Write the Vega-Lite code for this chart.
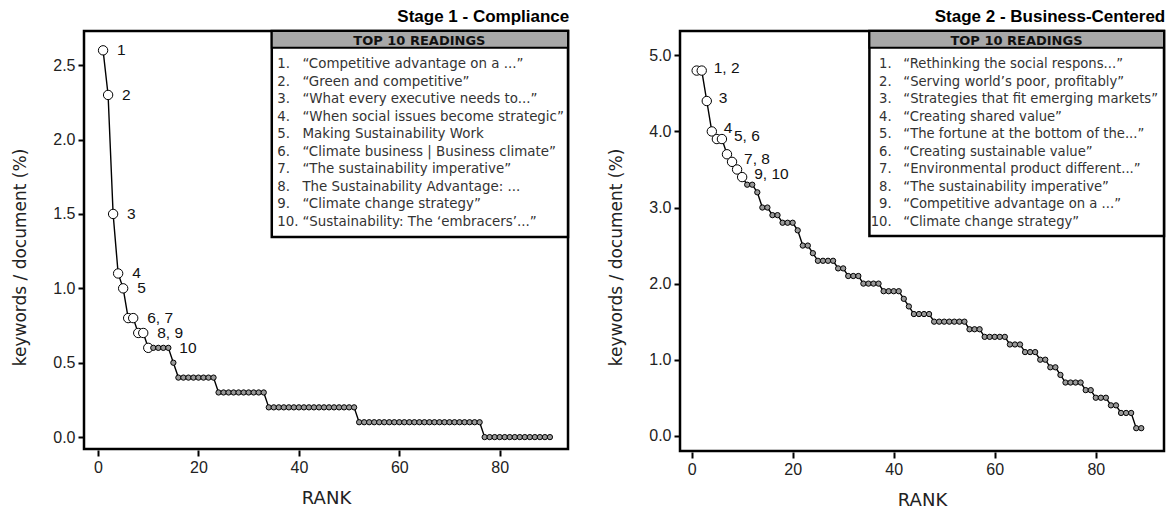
{
  "$schema": "https://vega.github.io/schema/vega-lite/v6.json",
  "padding": {"left": 10, "top": 6, "right": 2, "bottom": 3},
  "spacing": 35,
  "config": {
    "font": "Liberation Sans",
    "view": {"stroke": "black", "strokeWidth": 2.5},
    "axis": {
      "domain": false, "grid": false, "tickColor": "black", "tickWidth": 2, "tickSize": 6,
      "labelFontSize": 16, "labelColor": "#222", "labelPadding": 3,
      "titleFontSize": 17, "titleFont": "DejaVu Sans", "titleFontWeight": "normal", "titleColor": "#222"
    },
    "axisY": {"titlePadding": 23},
    "axisX": {"titlePadding": 14, "offset": 1, "titleFontSize": 18},
    "title": {"fontSize": 17, "fontWeight": "bold", "anchor": "end", "color": "black", "offset": 4}
  },
  "datasets": {
    "s1": [
      {"rank": 1, "value": 2.6, "group": "top", "label": "1"},
      {"rank": 2, "value": 2.3, "group": "top", "label": "2"},
      {"rank": 3, "value": 1.5, "group": "top", "label": "3"},
      {"rank": 4, "value": 1.1, "group": "top", "label": "4"},
      {"rank": 5, "value": 1.0, "group": "top", "label": "5"},
      {"rank": 6, "value": 0.8, "group": "top"},
      {"rank": 7, "value": 0.8, "group": "top", "label": "6, 7"},
      {"rank": 8, "value": 0.7, "group": "top"},
      {"rank": 9, "value": 0.7, "group": "top", "label": "8, 9"},
      {"rank": 10, "value": 0.6, "group": "top", "label": "10"},
      {"rank": 11, "value": 0.6, "group": "other"},
      {"rank": 12, "value": 0.6, "group": "other"},
      {"rank": 13, "value": 0.6, "group": "other"},
      {"rank": 14, "value": 0.6, "group": "other"},
      {"rank": 15, "value": 0.5, "group": "other"},
      {"rank": 16, "value": 0.4, "group": "other"},
      {"rank": 17, "value": 0.4, "group": "other"},
      {"rank": 18, "value": 0.4, "group": "other"},
      {"rank": 19, "value": 0.4, "group": "other"},
      {"rank": 20, "value": 0.4, "group": "other"},
      {"rank": 21, "value": 0.4, "group": "other"},
      {"rank": 22, "value": 0.4, "group": "other"},
      {"rank": 23, "value": 0.4, "group": "other"},
      {"rank": 24, "value": 0.3, "group": "other"},
      {"rank": 25, "value": 0.3, "group": "other"},
      {"rank": 26, "value": 0.3, "group": "other"},
      {"rank": 27, "value": 0.3, "group": "other"},
      {"rank": 28, "value": 0.3, "group": "other"},
      {"rank": 29, "value": 0.3, "group": "other"},
      {"rank": 30, "value": 0.3, "group": "other"},
      {"rank": 31, "value": 0.3, "group": "other"},
      {"rank": 32, "value": 0.3, "group": "other"},
      {"rank": 33, "value": 0.3, "group": "other"},
      {"rank": 34, "value": 0.2, "group": "other"},
      {"rank": 35, "value": 0.2, "group": "other"},
      {"rank": 36, "value": 0.2, "group": "other"},
      {"rank": 37, "value": 0.2, "group": "other"},
      {"rank": 38, "value": 0.2, "group": "other"},
      {"rank": 39, "value": 0.2, "group": "other"},
      {"rank": 40, "value": 0.2, "group": "other"},
      {"rank": 41, "value": 0.2, "group": "other"},
      {"rank": 42, "value": 0.2, "group": "other"},
      {"rank": 43, "value": 0.2, "group": "other"},
      {"rank": 44, "value": 0.2, "group": "other"},
      {"rank": 45, "value": 0.2, "group": "other"},
      {"rank": 46, "value": 0.2, "group": "other"},
      {"rank": 47, "value": 0.2, "group": "other"},
      {"rank": 48, "value": 0.2, "group": "other"},
      {"rank": 49, "value": 0.2, "group": "other"},
      {"rank": 50, "value": 0.2, "group": "other"},
      {"rank": 51, "value": 0.2, "group": "other"},
      {"rank": 52, "value": 0.1, "group": "other"},
      {"rank": 53, "value": 0.1, "group": "other"},
      {"rank": 54, "value": 0.1, "group": "other"},
      {"rank": 55, "value": 0.1, "group": "other"},
      {"rank": 56, "value": 0.1, "group": "other"},
      {"rank": 57, "value": 0.1, "group": "other"},
      {"rank": 58, "value": 0.1, "group": "other"},
      {"rank": 59, "value": 0.1, "group": "other"},
      {"rank": 60, "value": 0.1, "group": "other"},
      {"rank": 61, "value": 0.1, "group": "other"},
      {"rank": 62, "value": 0.1, "group": "other"},
      {"rank": 63, "value": 0.1, "group": "other"},
      {"rank": 64, "value": 0.1, "group": "other"},
      {"rank": 65, "value": 0.1, "group": "other"},
      {"rank": 66, "value": 0.1, "group": "other"},
      {"rank": 67, "value": 0.1, "group": "other"},
      {"rank": 68, "value": 0.1, "group": "other"},
      {"rank": 69, "value": 0.1, "group": "other"},
      {"rank": 70, "value": 0.1, "group": "other"},
      {"rank": 71, "value": 0.1, "group": "other"},
      {"rank": 72, "value": 0.1, "group": "other"},
      {"rank": 73, "value": 0.1, "group": "other"},
      {"rank": 74, "value": 0.1, "group": "other"},
      {"rank": 75, "value": 0.1, "group": "other"},
      {"rank": 76, "value": 0.1, "group": "other"},
      {"rank": 77, "value": 0.0, "group": "other"},
      {"rank": 78, "value": 0.0, "group": "other"},
      {"rank": 79, "value": 0.0, "group": "other"},
      {"rank": 80, "value": 0.0, "group": "other"},
      {"rank": 81, "value": 0.0, "group": "other"},
      {"rank": 82, "value": 0.0, "group": "other"},
      {"rank": 83, "value": 0.0, "group": "other"},
      {"rank": 84, "value": 0.0, "group": "other"},
      {"rank": 85, "value": 0.0, "group": "other"},
      {"rank": 86, "value": 0.0, "group": "other"},
      {"rank": 87, "value": 0.0, "group": "other"},
      {"rank": 88, "value": 0.0, "group": "other"},
      {"rank": 89, "value": 0.0, "group": "other"},
      {"rank": 90, "value": 0.0, "group": "other"}
    ],
    "s2": [
      {"rank": 1, "value": 4.8, "group": "top"},
      {"rank": 2, "value": 4.8, "group": "top", "label": "1, 2"},
      {"rank": 3, "value": 4.4, "group": "top", "label": "3"},
      {"rank": 4, "value": 4.0, "group": "top", "label": "4"},
      {"rank": 5, "value": 3.9, "group": "top"},
      {"rank": 6, "value": 3.9, "group": "top", "label": "5, 6"},
      {"rank": 7, "value": 3.7, "group": "top"},
      {"rank": 8, "value": 3.6, "group": "top", "label": "7, 8"},
      {"rank": 9, "value": 3.5, "group": "top"},
      {"rank": 10, "value": 3.4, "group": "top", "label": "9, 10"},
      {"rank": 11, "value": 3.3, "group": "other"},
      {"rank": 12, "value": 3.3, "group": "other"},
      {"rank": 13, "value": 3.2, "group": "other"},
      {"rank": 14, "value": 3.0, "group": "other"},
      {"rank": 15, "value": 3.0, "group": "other"},
      {"rank": 16, "value": 2.9, "group": "other"},
      {"rank": 17, "value": 2.9, "group": "other"},
      {"rank": 18, "value": 2.8, "group": "other"},
      {"rank": 19, "value": 2.8, "group": "other"},
      {"rank": 20, "value": 2.8, "group": "other"},
      {"rank": 21, "value": 2.7, "group": "other"},
      {"rank": 22, "value": 2.5, "group": "other"},
      {"rank": 23, "value": 2.5, "group": "other"},
      {"rank": 24, "value": 2.4, "group": "other"},
      {"rank": 25, "value": 2.3, "group": "other"},
      {"rank": 26, "value": 2.3, "group": "other"},
      {"rank": 27, "value": 2.3, "group": "other"},
      {"rank": 28, "value": 2.3, "group": "other"},
      {"rank": 29, "value": 2.2, "group": "other"},
      {"rank": 30, "value": 2.2, "group": "other"},
      {"rank": 31, "value": 2.1, "group": "other"},
      {"rank": 32, "value": 2.1, "group": "other"},
      {"rank": 33, "value": 2.1, "group": "other"},
      {"rank": 34, "value": 2.0, "group": "other"},
      {"rank": 35, "value": 2.0, "group": "other"},
      {"rank": 36, "value": 2.0, "group": "other"},
      {"rank": 37, "value": 2.0, "group": "other"},
      {"rank": 38, "value": 1.9, "group": "other"},
      {"rank": 39, "value": 1.9, "group": "other"},
      {"rank": 40, "value": 1.9, "group": "other"},
      {"rank": 41, "value": 1.9, "group": "other"},
      {"rank": 42, "value": 1.8, "group": "other"},
      {"rank": 43, "value": 1.7, "group": "other"},
      {"rank": 44, "value": 1.6, "group": "other"},
      {"rank": 45, "value": 1.6, "group": "other"},
      {"rank": 46, "value": 1.6, "group": "other"},
      {"rank": 47, "value": 1.6, "group": "other"},
      {"rank": 48, "value": 1.5, "group": "other"},
      {"rank": 49, "value": 1.5, "group": "other"},
      {"rank": 50, "value": 1.5, "group": "other"},
      {"rank": 51, "value": 1.5, "group": "other"},
      {"rank": 52, "value": 1.5, "group": "other"},
      {"rank": 53, "value": 1.5, "group": "other"},
      {"rank": 54, "value": 1.5, "group": "other"},
      {"rank": 55, "value": 1.4, "group": "other"},
      {"rank": 56, "value": 1.4, "group": "other"},
      {"rank": 57, "value": 1.4, "group": "other"},
      {"rank": 58, "value": 1.3, "group": "other"},
      {"rank": 59, "value": 1.3, "group": "other"},
      {"rank": 60, "value": 1.3, "group": "other"},
      {"rank": 61, "value": 1.3, "group": "other"},
      {"rank": 62, "value": 1.3, "group": "other"},
      {"rank": 63, "value": 1.2, "group": "other"},
      {"rank": 64, "value": 1.2, "group": "other"},
      {"rank": 65, "value": 1.2, "group": "other"},
      {"rank": 66, "value": 1.1, "group": "other"},
      {"rank": 67, "value": 1.1, "group": "other"},
      {"rank": 68, "value": 1.1, "group": "other"},
      {"rank": 69, "value": 1.0, "group": "other"},
      {"rank": 70, "value": 1.0, "group": "other"},
      {"rank": 71, "value": 0.9, "group": "other"},
      {"rank": 72, "value": 0.9, "group": "other"},
      {"rank": 73, "value": 0.8, "group": "other"},
      {"rank": 74, "value": 0.7, "group": "other"},
      {"rank": 75, "value": 0.7, "group": "other"},
      {"rank": 76, "value": 0.7, "group": "other"},
      {"rank": 77, "value": 0.7, "group": "other"},
      {"rank": 78, "value": 0.6, "group": "other"},
      {"rank": 79, "value": 0.6, "group": "other"},
      {"rank": 80, "value": 0.5, "group": "other"},
      {"rank": 81, "value": 0.5, "group": "other"},
      {"rank": 82, "value": 0.5, "group": "other"},
      {"rank": 83, "value": 0.4, "group": "other"},
      {"rank": 84, "value": 0.4, "group": "other"},
      {"rank": 85, "value": 0.3, "group": "other"},
      {"rank": 86, "value": 0.3, "group": "other"},
      {"rank": 87, "value": 0.3, "group": "other"},
      {"rank": 88, "value": 0.1, "group": "other"},
      {"rank": 89, "value": 0.1, "group": "other"}
    ],
    "r1": [
      {"k": 1, "num": "1.", "title": "“Competitive advantage on a ...”"},
      {"k": 2, "num": "2.", "title": "“Green and competitive”"},
      {"k": 3, "num": "3.", "title": "“What every executive needs to...”"},
      {"k": 4, "num": "4.", "title": "“When social issues become strategic”"},
      {"k": 5, "num": "5.", "title": "Making Sustainability Work"},
      {"k": 6, "num": "6.", "title": "“Climate business | Business climate”"},
      {"k": 7, "num": "7.", "title": "“The sustainability imperative”"},
      {"k": 8, "num": "8.", "title": "The Sustainability Advantage: ..."},
      {"k": 9, "num": "9.", "title": "“Climate change strategy”"},
      {"k": 10, "num": "10.", "title": "“Sustainability: The ‘embracers’...”"}
    ],
    "r2": [
      {"k": 1, "num": "1.", "title": "“Rethinking the social respons...”"},
      {"k": 2, "num": "2.", "title": "“Serving world’s poor, profitably”"},
      {"k": 3, "num": "3.", "title": "“Strategies that fit emerging markets”"},
      {"k": 4, "num": "4.", "title": "“Creating shared value”"},
      {"k": 5, "num": "5.", "title": "“The fortune at the bottom of the...”"},
      {"k": 6, "num": "6.", "title": "“Creating sustainable value”"},
      {"k": 7, "num": "7.", "title": "“Environmental product different...”"},
      {"k": 8, "num": "8.", "title": "“The sustainability imperative”"},
      {"k": 9, "num": "9.", "title": "“Competitive advantage on a ...”"},
      {"k": 10, "num": "10.", "title": "“Climate change strategy”"}
    ]
  },
  "hconcat": [
    {
      "width": 484,
      "height": 418,
      "title": {"text": "Stage 1 - Compliance"},
      "resolve": {"scale": {"y": "independent"}},
      "layer": [
        {
          "data": {"name": "s1"},
          "encoding": {
            "x": {"field": "rank", "type": "quantitative", "scale": {"domain": [-2.8, 93.6], "nice": false, "zero": false}, "axis": {"values": [0, 20, 40, 60, 80], "title": "RANK"}},
            "y": {"field": "value", "type": "quantitative", "scale": {"domain": [-0.08, 2.73], "nice": false, "zero": false}, "axis": {"values": [0, 0.5, 1, 1.5, 2, 2.5], "format": ".1f", "title": "keywords / document (%)", "titleY": 226}}
          },
          "layer": [
            {"mark": {"type": "line", "color": "black", "strokeWidth": 1.4}, "encoding": {}},
            {
              "mark": {"type": "point", "shape": "circle", "filled": true, "stroke": "black", "strokeWidth": 1, "opacity": 1},
              "encoding": {
                "fill": {"field": "group", "type": "nominal", "scale": {"domain": ["top", "other"], "range": ["white", "#999999"]}, "legend": null},
                "size": {"field": "group", "type": "nominal", "scale": {"domain": ["top", "other"], "range": [88, 28]}, "legend": null}
              }
            },
            {
              "transform": [{"filter": "datum.label && datum.label != '10'"}],
              "mark": {"type": "text", "align": "left", "baseline": "middle", "dx": 14, "fontSize": 15.5, "color": "#111"},
              "encoding": {"text": {"field": "label"}}
            },
            {
              "transform": [{"filter": "datum.label == '10'"}],
              "mark": {"type": "text", "align": "left", "baseline": "middle", "dx": 31, "fontSize": 15.5, "color": "#111"},
              "encoding": {"text": {"field": "label"}}
            }
          ]
        },
        {
          "data": {"name": "r1"},
          "encoding": {
            "y": {"field": "k", "type": "quantitative", "scale": {"domain": [-0.907, 23.006], "reverse": true, "nice": false, "zero": false}, "axis": null}
          },
          "layer": [
            {
              "transform": [{"filter": "datum.k == 1"}],
              "mark": {"type": "rect", "fill": "white", "stroke": "black", "strokeWidth": 2.5},
              "encoding": {
                "x": {"datum": 34.6, "type": "quantitative", "axis": {"values": [0, 20, 40, 60, 80], "title": "RANK"}},
                "x2": {"datum": 93.6},
                "y": {"datum": -0.907, "type": "quantitative"},
                "y2": {"datum": 10.88}
              }
            },
            {
              "transform": [{"filter": "datum.k == 1"}],
              "mark": {"type": "rect", "fill": "#a8a8a8", "stroke": "black", "strokeWidth": 2},
              "encoding": {
                "x": {"datum": 34.6, "type": "quantitative", "axis": {"values": [0, 20, 40, 60, 80], "title": "RANK"}},
                "x2": {"datum": 93.6},
                "y": {"datum": -0.907, "type": "quantitative"},
                "y2": {"datum": 0.048}
              }
            },
            {
              "transform": [{"filter": "datum.k == 1"}],
              "mark": {"type": "text", "text": "TOP 10 READINGS", "font": "DejaVu Sans", "fontWeight": "bold", "fontSize": 13, "align": "center", "baseline": "middle", "color": "#111"},
              "encoding": {
                "x": {"datum": 64.0, "type": "quantitative", "axis": {"values": [0, 20, 40, 60, 80], "title": "RANK"}},
                "y": {"datum": -0.335, "type": "quantitative"}
              }
            },
            {
              "mark": {"type": "text", "align": "left", "baseline": "middle", "fontSize": 13.4, "font": "DejaVu Sans", "color": "#333"},
              "encoding": {
                "x": {"datum": 35.7, "type": "quantitative", "axis": {"values": [0, 20, 40, 60, 80], "title": "RANK"}},
                "text": {"field": "num"}
              }
            },
            {
              "mark": {"type": "text", "align": "left", "baseline": "middle", "fontSize": 13.4, "font": "DejaVu Sans", "color": "#333"},
              "encoding": {
                "x": {"datum": 40.7, "type": "quantitative", "axis": {"values": [0, 20, 40, 60, 80], "title": "RANK"}},
                "text": {"field": "title"}
              }
            }
          ]
        }
      ]
    },
    {
      "width": 484,
      "height": 420,
      "title": {"text": "Stage 2 - Business-Centered"},
      "resolve": {"scale": {"y": "independent"}},
      "layer": [
        {
          "data": {"name": "s2"},
          "encoding": {
            "x": {"field": "rank", "type": "quantitative", "scale": {"domain": [-2.3, 93.5], "nice": false, "zero": false}, "axis": {"values": [0, 20, 40, 60, 80], "title": "RANK"}},
            "y": {"field": "value", "type": "quantitative", "scale": {"domain": [-0.2, 5.32], "nice": false, "zero": false}, "axis": {"values": [0, 1, 2, 3, 4, 5], "format": ".1f", "title": "keywords / document (%)", "titleY": 226}}
          },
          "layer": [
            {"mark": {"type": "line", "color": "black", "strokeWidth": 1.4}, "encoding": {}},
            {
              "mark": {"type": "point", "shape": "circle", "filled": true, "stroke": "black", "strokeWidth": 1, "opacity": 1},
              "encoding": {
                "fill": {"field": "group", "type": "nominal", "scale": {"domain": ["top", "other"], "range": ["white", "#999999"]}, "legend": null},
                "size": {"field": "group", "type": "nominal", "scale": {"domain": ["top", "other"], "range": [88, 28]}, "legend": null}
              }
            },
            {
              "transform": [{"filter": "datum.label"}],
              "mark": {"type": "text", "align": "left", "baseline": "middle", "dx": 12, "dy": -3, "fontSize": 15.5, "color": "#111"},
              "encoding": {"text": {"field": "label"}}
            }
          ]
        },
        {
          "data": {"name": "r2"},
          "encoding": {
            "y": {"field": "k", "type": "quantitative", "scale": {"domain": [-0.907, 23.12], "reverse": true, "nice": false, "zero": false}, "axis": null}
          },
          "layer": [
            {
              "transform": [{"filter": "datum.k == 1"}],
              "mark": {"type": "rect", "fill": "white", "stroke": "black", "strokeWidth": 2.5},
              "encoding": {
                "x": {"datum": 35.19, "type": "quantitative", "axis": {"values": [0, 20, 40, 60, 80], "title": "RANK"}},
                "x2": {"datum": 93.5},
                "y": {"datum": -0.907, "type": "quantitative"},
                "y2": {"datum": 10.82}
              }
            },
            {
              "transform": [{"filter": "datum.k == 1"}],
              "mark": {"type": "rect", "fill": "#a8a8a8", "stroke": "black", "strokeWidth": 2},
              "encoding": {
                "x": {"datum": 35.19, "type": "quantitative", "axis": {"values": [0, 20, 40, 60, 80], "title": "RANK"}},
                "x2": {"datum": 93.5},
                "y": {"datum": -0.907, "type": "quantitative"},
                "y2": {"datum": 0.048}
              }
            },
            {
              "transform": [{"filter": "datum.k == 1"}],
              "mark": {"type": "text", "text": "TOP 10 READINGS", "font": "DejaVu Sans", "fontWeight": "bold", "fontSize": 13, "align": "center", "baseline": "middle", "color": "#111"},
              "encoding": {
                "x": {"datum": 64.3, "type": "quantitative", "axis": {"values": [0, 20, 40, 60, 80], "title": "RANK"}},
                "y": {"datum": -0.335, "type": "quantitative"}
              }
            },
            {
              "mark": {"type": "text", "align": "right", "baseline": "middle", "fontSize": 13.2, "font": "DejaVu Sans", "color": "#333"},
              "encoding": {
                "x": {"datum": 39.6, "type": "quantitative", "axis": {"values": [0, 20, 40, 60, 80], "title": "RANK"}},
                "text": {"field": "num"}
              }
            },
            {
              "mark": {"type": "text", "align": "left", "baseline": "middle", "fontSize": 13.2, "font": "DejaVu Sans", "color": "#333"},
              "encoding": {
                "x": {"datum": 41.9, "type": "quantitative", "axis": {"values": [0, 20, 40, 60, 80], "title": "RANK"}},
                "text": {"field": "title"}
              }
            }
          ]
        }
      ]
    }
  ]
}
